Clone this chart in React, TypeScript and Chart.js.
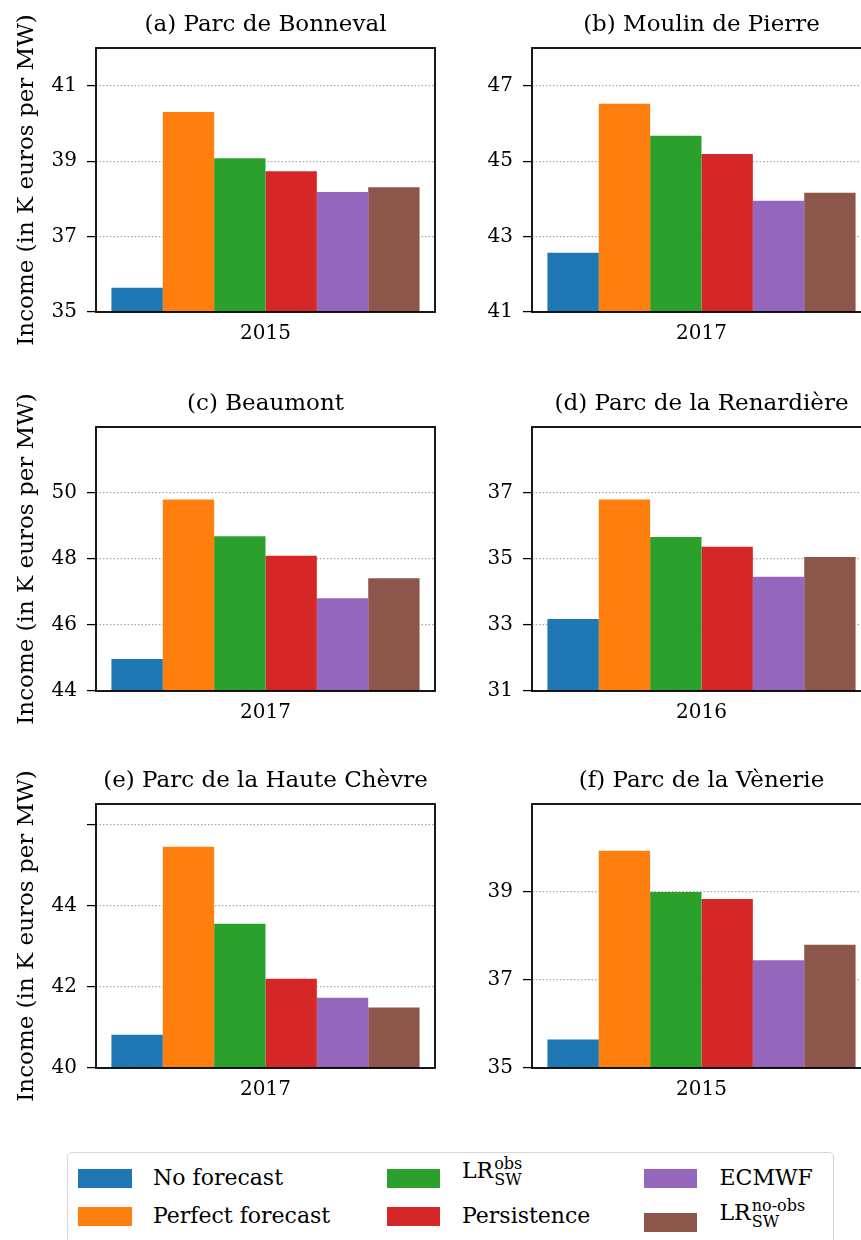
import React, { useEffect, useRef } from 'react';
import { Chart, registerables } from 'chart.js';

Chart.register(...registerables);

// ---------- data ----------
const panelTitles = [
  '(a) Parc de Bonneval',
  '(b) Moulin de Pierre',
  '(c) Beaumont',
  '(d) Parc de la Renardière',
  '(e) Parc de la Haute Chèvre',
  '(f) Parc de la Vènerie',
];
const panelYears = ['2015', '2017', '2017', '2016', '2017', '2015'];

const seriesNames = ['No forecast', 'Perfect forecast', 'LR_SW^obs', 'Persistence', 'ECMWF', 'LR_SW^no-obs'];
const seriesColors = ['#1f77b4', '#ff7f0e', '#2ca02c', '#d62728', '#9467bd', '#8c564b'];

// values per panel (a)..(f)
const noForecast = [35.64, 42.57, 44.97, 33.18, 40.82, 35.65];
const perfectForecast = [40.3, 46.52, 49.8, 36.8, 45.45, 39.94];
const lrObs = [39.08, 45.67, 48.69, 35.67, 43.55, 39.0];
const persistence = [38.73, 45.19, 48.1, 35.37, 42.2, 38.84];
const ecmwf = [38.18, 43.95, 46.81, 34.46, 41.73, 37.45];
const lrNoObs = [38.31, 44.16, 47.42, 35.06, 41.49, 37.8];
const seriesValues = [noForecast, perfectForecast, lrObs, persistence, ecmwf, lrNoObs];

const yMins = [35, 41, 44, 31, 40, 35];
const yMaxs = [42, 48, 52, 39, 46.5, 41];
const yTickValues = [
  [35, 37, 39, 41],
  [41, 43, 45, 47],
  [44, 46, 48, 50],
  [31, 33, 35, 37],
  [40, 42, 44, 46],
  [35, 37, 39],
];
const yTickLabels = [
  ['35', '37', '39', '41'],
  ['41', '43', '45', '47'],
  ['44', '46', '48', '50'],
  ['31', '33', '35', '37'],
  ['40', '42', '44', ''],
  ['35', '37', '39'],
];
const yAxisTitle = 'Income (in K euros per MW)';

// ---------- styling ----------
const FONT = "'DejaVu Serif', 'Liberation Serif', serif";
const CANVAS_W = 440;
const CANVAS_H = 360;
const colLefts = [0, 436];
const rowTops = [0, 379, 756];

const framePlugin = {
  id: 'frame',
  afterDatasetsDraw(chart: any) {
    const { ctx, chartArea: a } = chart;
    ctx.save();
    ctx.strokeStyle = '#000';
    ctx.lineWidth = 1.8;
    ctx.strokeRect(a.left, a.top, a.right - a.left, a.bottom - a.top);
    ctx.restore();
  },
};

function Panel({ index }: { index: number }) {
  const ref = useRef<HTMLCanvasElement | null>(null);
  const col = index % 2;
  const row = Math.floor(index / 2);
  useEffect(() => {
    if (!ref.current) return;
    const chart = new Chart(ref.current, {
      type: 'bar',
      data: {
        labels: [panelYears[index]],
        datasets: seriesNames.map((name, k) => ({
          label: name,
          data: [seriesValues[k][index]],
          backgroundColor: seriesColors[k],
          borderWidth: 0,
          barPercentage: 1,
          categoryPercentage: 0.909,
        })),
      },
      options: {
        responsive: false,
        animation: false,
        devicePixelRatio: 1,
        layout: { padding: { left: 0, right: 5, top: 0, bottom: 0 } },
        plugins: {
          legend: { display: false },
          tooltip: { enabled: false },
          title: {
            display: true,
            text: panelTitles[index],
            fullSize: false,
            color: '#000',
            font: { family: FONT, size: 23, weight: 'normal', lineHeight: 1.2 },
            padding: { top: 11, bottom: 9.4 },
          },
        },
        scales: {
          x: {
            grid: { display: false, drawTicks: false },
            border: { display: false },
            ticks: { color: '#000', font: { family: FONT, size: 20 }, padding: 10 },
            afterFit: (s: any) => {
              s.height = 48;
            },
          },
          y: {
            min: yMins[index],
            max: yMaxs[index],
            grid: {
              color: '#a8a8a8',
              lineWidth: 1.2,
              tickColor: '#000',
              tickWidth: 1.3,
              tickLength: 9,
              tickBorderDash: [],
            },
            border: { display: false, dash: [1.5, 2] },
            ticks: {
              color: '#000',
              font: { family: FONT, size: 20 },
              padding: 10,
              callback: (_v: any, i: number) => yTickLabels[index][i],
            },
            afterBuildTicks: (s: any) => {
              s.ticks = yTickValues[index].map((v) => ({ value: v }));
            },
            afterFit: (s: any) => {
              s.width = 96;
            },
            title: {
              display: col === 0,
              text: yAxisTitle,
              color: '#000',
              font: { family: FONT, size: 23, lineHeight: 1.2 },
              padding: { top: 13, bottom: 0 },
            },
          },
        },
      },
      plugins: [framePlugin],
    } as any);
    return () => chart.destroy();
  }, [index]);
  return (
    <canvas
      ref={ref}
      width={CANVAS_W}
      height={CANVAS_H}
      style={{
        position: 'absolute',
        left: colLefts[col],
        top: rowTops[row],
        width: CANVAS_W,
        height: CANVAS_H,
      }}
    />
  );
}

// ---------- legend ----------
const legendSwatchX = [78, 386.5, 643.5];
const legendTextX = [153, 462, 719.5];
const legendRowY = [1178, 1216];

function LegendText({ k }: { k: number }) {
  const name = seriesNames[k];
  if (name.startsWith('LR_SW^')) {
    const sup = name.split('^')[1];
    return (
      <span style={{ whiteSpace: 'nowrap' }}>
        LR
        <span
          style={{
            position: 'relative',
            display: 'inline-block',
            width: sup.length * 9,
            height: 10,
          }}
        >
          <span style={{ position: 'absolute', left: 1, top: -12, fontSize: 16, lineHeight: '16px' }}>{sup}</span>
          <span style={{ position: 'absolute', left: 1, top: 4, fontSize: 16, lineHeight: '16px' }}>SW</span>
        </span>
      </span>
    );
  }
  return <span style={{ whiteSpace: 'nowrap' }}>{name}</span>;
}

function Legend() {
  const items = seriesNames.map((_, k) => {
    const col = Math.floor(k / 2);
    const row = k % 2;
    const swatchShift = k === 5 ? 6 : 0;
    const textShift = k === 2 ? -6.6 : k === 5 ? -2.6 : 0;
    const cy = legendRowY[row];
    return (
      <React.Fragment key={k}>
        <div
          style={{
            position: 'absolute',
            left: legendSwatchX[col],
            top: cy + swatchShift - 9.5,
            width: 53.5,
            height: 19,
            background: seriesColors[k],
          }}
        />
        <div
          style={{
            position: 'absolute',
            left: legendTextX[col],
            top: cy + textShift - 13,
            height: 26,
            lineHeight: '26px',
            fontSize: 22,
            fontFamily: FONT,
            color: '#000',
          }}
        >
          <LegendText k={k} />
        </div>
      </React.Fragment>
    );
  });
  return (
    <>
      <div
        style={{
          position: 'absolute',
          left: 67,
          top: 1152,
          width: 767,
          height: 120,
          border: '1.5px solid #d6d6d6',
          borderRadius: 5,
          boxSizing: 'border-box',
          background: '#fff',
        }}
      />
      {items}
    </>
  );
}

export default function App() {
  return (
    <div
      style={{
        position: 'fixed',
        left: 0,
        top: 0,
        width: 861,
        height: 1240,
        overflow: 'hidden',
        background: '#fff',
      }}
    >
      {panelTitles.map((_, i) => (
        <Panel key={i} index={i} />
      ))}
      <Legend />
    </div>
  );
}
